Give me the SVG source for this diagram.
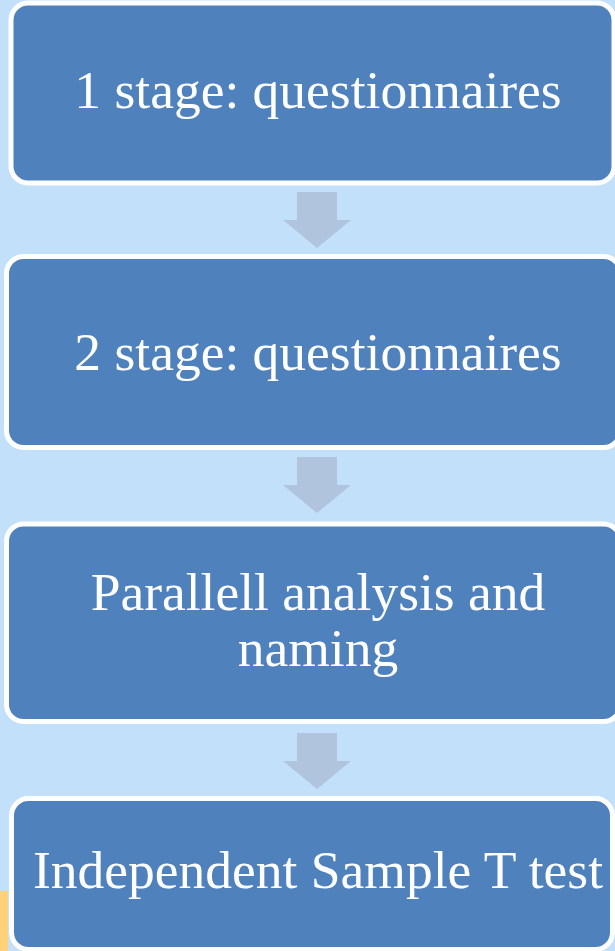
<svg xmlns="http://www.w3.org/2000/svg" width="615" height="951" viewBox="0 0 615 951">
  <style>
    .box { fill: #4F81BD; stroke: #FFFFFF; stroke-width: 5; }
    .lbl { fill: #FFFFFF; font-family: "Liberation Serif", "Times New Roman", serif; font-size: 53.5px; text-anchor: middle; }
    .arr { fill: #B1C4DE; }
  </style>
  <rect x="0" y="0" width="615" height="951" fill="#C2E0FA"/>
  <rect x="0" y="891" width="8" height="60" fill="#FFD27A"/>
  <g id="connectors">
    <polygon class="arr" points="297,192 337,192 337,220 351,220 317,248 283,220 297,220"/>
    <polygon class="arr" points="297,457 337,457 337,485 351,485 317,513 283,485 297,485"/>
    <polygon class="arr" points="297,733 337,733 337,761 351,761 317,789 283,761 297,761"/>
  </g>
  <g id="node1">
    <rect class="box" x="11" y="3" width="603" height="180" rx="17"/>
    <text class="lbl" x="318" y="108">1 stage: questionnaires</text>
  </g>
  <g id="node2">
    <rect class="box" x="6.5" y="256.5" width="614" height="191" rx="17"/>
    <text class="lbl" x="318" y="370">2 stage: questionnaires</text>
  </g>
  <g id="node3">
    <rect class="box" x="6.5" y="524" width="614" height="197.5" rx="17"/>
    <text class="lbl" x="318" y="610">Parallell analysis and</text>
    <text class="lbl" x="318" y="666">naming</text>
  </g>
  <g id="node4">
    <rect class="box" x="11.5" y="798.5" width="601" height="151" rx="17"/>
    <text class="lbl" x="318" y="888">Independent Sample T test</text>
  </g>
</svg>
